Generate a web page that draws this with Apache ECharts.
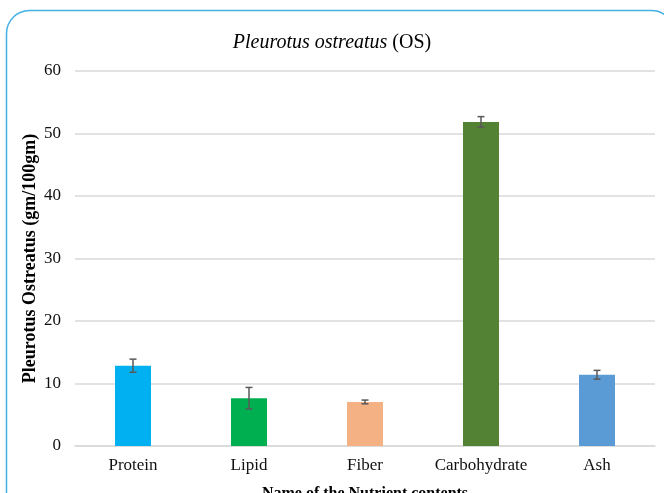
<!DOCTYPE html>
<html>
<head>
<meta charset="utf-8">
<script src="https://cdn.jsdelivr.net/npm/echarts@6/dist/echarts.min.js"></script>
<style>
  html, body { margin: 0; padding: 0; background: #fff; }
  #chart { width: 664px; height: 493px; }
</style>
</head>
<body>
<div id="chart"></div>
<script>
// Nutrient composition of Pleurotus ostreatus (gm/100gm), mean ± SD
const categories = ['Protein', 'Lipid', 'Fiber', 'Carbohydrate', 'Ash'];
const values = [12.85, 7.65, 7.05, 51.85, 11.4];
const errors = [1.05, 1.72, 0.3, 0.85, 0.7];
const yTicks = [0, 10, 20, 30, 40, 50, 60];

const barColors = ['#00B0F0', '#00B050', '#F4B183', '#548235', '#5B9BD5'];
const serif = '"Liberation Serif", "Times New Roman", serif';

const chart = echarts.init(document.getElementById('chart'), null, { renderer: 'canvas' });

const errorData = values.map((v, i) => [i, v - errors[i], v + errors[i]]);

chart.setOption({
  animation: false,
  backgroundColor: '#fff',
  graphic: [{
    type: 'rect',
    silent: true,
    shape: { x: 6.5, y: 10.5, width: 668, height: 620, r: 23 },
    style: { fill: 'none', stroke: '#45B0E3', lineWidth: 1.5 }
  }],
  title: {
    text: '{i|Pleurotus ostreatus} {n|(OS)}',
    left: 'center',
    top: 28,
    textStyle: {
      fontWeight: 'normal',
      rich: {
        i: { fontFamily: serif, fontSize: 20, fontStyle: 'italic', fontWeight: 'normal', color: '#000' },
        n: { fontFamily: serif, fontSize: 20, fontWeight: 'normal', color: '#000' }
      }
    }
  },
  grid: { left: 75, right: 9, top: 71, bottom: 47, containLabel: false, outerBoundsMode: 'none' },
  xAxis: {
    type: 'category',
    data: categories,
    name: 'Name of the Nutrient contents',
    nameLocation: 'middle',
    nameGap: 40,
    nameMoveOverlap: false,
    nameTextStyle: { fontFamily: serif, fontSize: 16, fontWeight: 'bold', color: '#000' },
    axisLine: { lineStyle: { color: '#D9D9D9', width: 1.5 } },
    axisTick: { show: false },
    axisLabel: { interval: 0, fontFamily: serif, fontSize: 17, color: '#111', margin: 11 }
  },
  yAxis: {
    type: 'value',
    min: yTicks[0],
    max: yTicks[yTicks.length - 1],
    interval: yTicks[1] - yTicks[0],
    name: 'Pleurotus Ostreatus (gm/100gm)',
    nameLocation: 'middle',
    nameGap: 36,
    nameMoveOverlap: false,
    nameTextStyle: { fontFamily: serif, fontSize: 18, fontWeight: 'bold', color: '#000' },
    axisLine: { show: false },
    axisTick: { show: false },
    axisLabel: { fontFamily: serif, fontSize: 17, color: '#111', margin: 14 },
    splitLine: { lineStyle: { color: '#D9D9D9', width: 1.5 } }
  },
  series: [
    {
      type: 'bar',
      barWidth: 36,
      data: values.map((v, i) => ({ value: v, itemStyle: { color: barColors[i] } }))
    },
    {
      type: 'custom',
      data: errorData,
      z: 5,
      renderItem: function (params, api) {
        const x = api.coord([api.value(0), 0])[0];
        const lo = api.coord([api.value(0), api.value(1)])[1];
        const hi = api.coord([api.value(0), api.value(2)])[1];
        const half = 3.5;
        const style = { stroke: '#595959', lineWidth: 1.5 };
        return {
          type: 'group',
          children: [
            { type: 'line', shape: { x1: x, y1: lo, x2: x, y2: hi }, style: style },
            { type: 'line', shape: { x1: x - half, y1: lo, x2: x + half, y2: lo }, style: style },
            { type: 'line', shape: { x1: x - half, y1: hi, x2: x + half, y2: hi }, style: style }
          ]
        };
      }
    }
  ]
});
</script>
</body>
</html>
